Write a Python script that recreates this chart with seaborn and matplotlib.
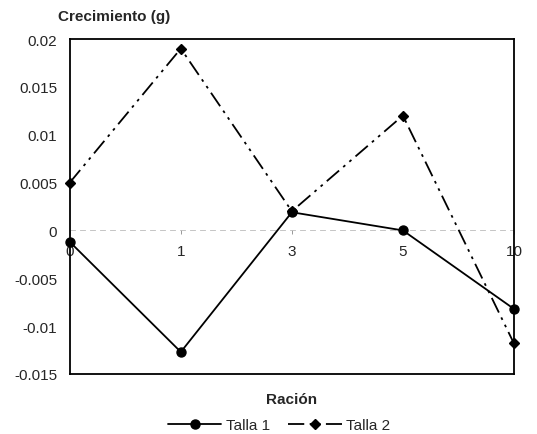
import numpy as np
import pandas as pd
import matplotlib
matplotlib.use("Agg")
import matplotlib.pyplot as plt
import seaborn as sns
from matplotlib.lines import Line2D

categories = ["0", "1", "3", "5", "10"]
talla1 = [-0.0012, -0.0127, 0.0019, 0.0, -0.0082]
talla2 = [0.0050, 0.0190, 0.0020, 0.0120, -0.0118]
series_names = ["Talla 1", "Talla 2"]
yticks = [-0.015, -0.01, -0.005, 0, 0.005, 0.01, 0.015, 0.02]
ytick_labels = ["-0.015", "-0.01", "-0.005", "0", "0.005", "0.01", "0.015", "0.02"]

df = pd.DataFrame({
    "Ración": categories * 2,
    "Crecimiento": talla1 + talla2,
    "Serie": [series_names[0]] * len(categories) + [series_names[1]] * len(categories),
})

sns.set_style("white")
plt.rcParams["font.family"] = ["Liberation Sans", "DejaVu Sans"]

fig = plt.figure(figsize=(5.37, 4.35), dpi=100)
ax = fig.add_axes([0.130, 0.138, 0.827, 0.770])

dashdot = (0, (9, 3, 1.5, 3, 1.5, 3))
sns.pointplot(data=df, x="Ración", y="Crecimiento", hue="Serie",
              order=categories, hue_order=series_names,
              palette=["black", "black"], markers=["o", "D"],
              linestyles=["-", dashdot],
              markersize=6.5, linewidth=1.3, ax=ax, legend=False,
              clip_on=False)
# slightly smaller diamonds for Talla 2
for ln in ax.lines:
    if ln.get_marker() == "D":
        ln.set_markersize(5.5)

ax.set_xlim(0, len(categories) - 1)
ax.set_ylim(-0.015, 0.02)
ax.set_yticks(yticks)
ax.set_yticklabels(ytick_labels, fontsize=11)
ax.tick_params(axis="y", length=0, pad=9)
ax.set_xticks([])
ax.set_xlabel("Ración", fontsize=11, fontweight="bold", labelpad=13)
ax.set_ylabel("")
for s in ax.spines.values():
    s.set_visible(True)
    s.set_color("black")
    s.set_linewidth(1.3)

# category axis crossing at y = 0
y0 = (0 - (-0.015)) / (0.02 - (-0.015))
sec = ax.secondary_xaxis(y0)
sec.set_xticks(range(len(categories)))
sec.set_xticklabels(categories, fontsize=11)
sec.tick_params(axis="x", length=3, width=0.6, color="#888888", pad=7)
sec.spines["bottom"].set_color("#bbbbbb")
sec.spines["bottom"].set_linewidth(0.6)
sec.spines["bottom"].set_linestyle((0, (6, 6)))

fig.text(0.108, 0.945, "Crecimiento (g)", fontsize=11, fontweight="bold",
         ha="left", va="bottom")

handles = [
    Line2D([], [], color="black", lw=1.3, marker="o", markersize=6.5, linestyle="-"),
    Line2D([], [], color="black", lw=1.3, marker="D", markersize=5.5,
           linestyle=dashdot),
]
fig.legend(handles, series_names, loc="center", bbox_to_anchor=(0.52, 0.02),
           ncol=2, frameon=False, fontsize=11, handlelength=3.5,
           columnspacing=1.2, handletextpad=0.3)

fig.savefig("out.png", dpi=100)
